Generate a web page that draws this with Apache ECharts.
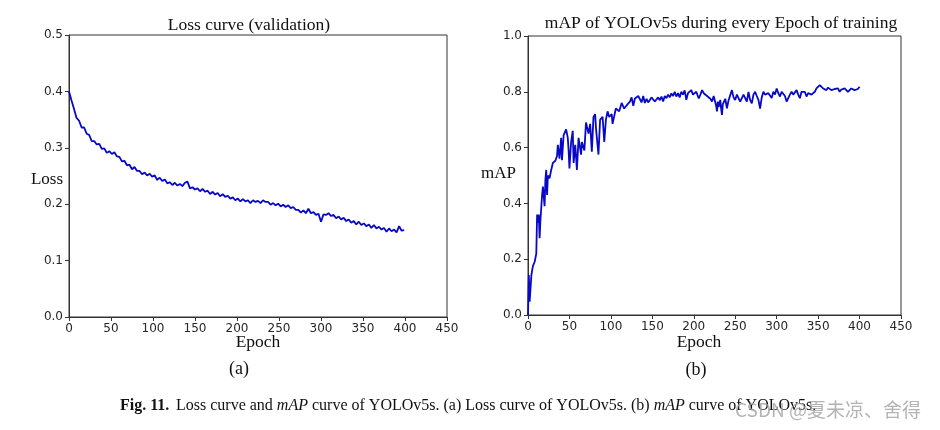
<!DOCTYPE html>
<html><head><meta charset="utf-8">
<script src="https://cdn.jsdelivr.net/npm/echarts@6/dist/echarts.min.js"></script>
<style>html,body{margin:0;padding:0;background:#fff}#c{width:940px;height:430px}</style>
</head><body><div id="c"></div>
<script>
const titleA = "Loss curve (validation)";
const titleB = "mAP of YOLOv5s during every Epoch of training";
const xName = "Epoch";
const yNameA = "Loss";
const yNameB = "mAP";
const xTickLabels = ["0","50","100","150","200","250","300","350","400","450"];
const yTickLabelsA = ["0.0","0.1","0.2","0.3","0.4","0.5"];
const yTickLabelsB = ["0.0","0.2","0.4","0.6","0.8","1.0"];

const lossEpochs = [0,3,6,9,12,15,18,21,24,27,30,33,36,39,42,45,48,51,54,57,60,63,66,69,72,75,78,81,84,87,90,93,96,99,
102,105,108,111,114,117,120,123,126,129,132,135,138,141,144,147,150,153,156,159,162,165,168,171,174,177,180,183,186,189,192,195,198,
201,204,207,210,213,216,219,222,225,228,231,234,237,240,243,246,249,252,255,258,261,264,267,270,273,276,279,282,285,288,291,294,297,
300,303,306,309,312,315,318,321,324,327,330,333,336,339,342,345,348,351,354,357,360,363,366,369,372,375,378,381,384,387,390,393,396,399];
const lossValues = [0.400,0.384,0.369,0.353,0.348,0.336,0.336,0.325,0.323,0.312,0.312,0.306,0.307,0.298,0.299,0.291,0.294,0.289,0.292,0.285,
0.284,0.276,0.277,0.269,0.270,0.262,0.266,0.259,0.259,0.253,0.256,0.251,0.254,0.249,0.251,0.243,0.247,0.241,0.244,0.237,
0.239,0.234,0.238,0.233,0.236,0.232,0.238,0.240,0.228,0.230,0.226,0.228,0.223,0.227,0.222,0.224,0.218,0.222,0.217,0.220,
0.214,0.218,0.213,0.215,0.210,0.212,0.207,0.210,0.205,0.209,0.205,0.207,0.202,0.207,0.204,0.206,0.202,0.207,0.204,0.204,
0.199,0.202,0.198,0.201,0.196,0.199,0.195,0.198,0.193,0.195,0.190,0.190,0.185,0.189,0.184,0.192,0.184,0.186,0.181,0.183,
0.169,0.182,0.181,0.184,0.179,0.181,0.175,0.178,0.173,0.176,0.170,0.173,0.167,0.170,0.164,0.169,0.163,0.166,0.161,0.164,
0.158,0.163,0.157,0.160,0.155,0.158,0.151,0.157,0.152,0.155,0.150,0.161,0.153,0.154];

const mapEpochs = [0,1,2,3,4,5,6,8,10,11,12,13,14,15,17,18,20,21,22,23,24,26,28,30,33,35,36,38,40,41,43,46,48,49,50,52,54,55,57,59,
61,64,65,68,70,73,75,77,79,81,82,85,87,90,92,94,96,98,101,102,106,110,113,116,120,123,125,127,129,131,133,135,137,139,141,143,145,147,149,
151,153,155,157,159,161,163,165,167,169,171,173,175,177,179,181,183,185,187,189,191,193,195,197,199,201,203,206,208,210,212,214,216,218,
220,222,224,226,227,228,229,230,232,233,234,235,237,238,240,242,244,246,248,250,252,254,256,258,260,262,264,266,268,270,272,274,276,278,
280,282,284,286,288,290,292,294,296,298,300,302,304,306,308,310,312,314,316,318,320,322,324,326,328,330,332,334,336,338,340,342,344,346,
348,350,352,354,356,358,360,362,364,366,368,370,372,374,376,378,380,382,384,386,388,390,392,394,396,398,400];
const mapValues = [0.00,0.143,0.048,0.05,0.14,0.16,0.176,0.19,0.22,0.36,0.33,0.36,0.275,0.34,0.43,0.46,0.39,0.485,0.52,0.43,0.50,0.49,0.52,0.545,
0.553,0.57,0.61,0.56,0.635,0.555,0.645,0.665,0.635,0.59,0.525,0.62,0.66,0.545,0.61,0.52,
0.635,0.575,0.62,0.59,0.69,0.65,0.685,0.585,0.71,0.72,0.67,0.575,0.70,0.71,0.62,0.70,0.73,0.71,0.72,0.685,0.74,0.73,0.76,0.74,0.755,
0.765,0.78,0.75,0.776,0.771,0.785,0.78,0.762,0.785,0.76,0.775,0.762,0.765,0.78,
0.777,0.765,0.759,0.78,0.77,0.783,0.765,0.785,0.777,0.79,0.78,0.794,0.785,0.80,0.783,0.795,0.78,0.80,0.79,0.805,0.771,0.795,0.80,0.806,0.79,
0.789,0.80,0.776,0.79,0.806,0.795,0.80,0.785,0.789,
0.775,0.765,0.785,0.79,0.75,0.73,0.765,0.745,0.771,0.74,0.717,0.755,0.759,0.775,0.741,0.77,0.777,0.806,0.78,0.771,0.79,0.795,0.765,0.765,
0.79,0.789,0.765,0.80,0.77,0.759,0.79,0.80,0.785,0.771,
0.74,0.78,0.80,0.79,0.783,0.795,0.789,0.778,0.80,0.79,0.812,0.795,0.783,0.80,0.80,0.785,0.765,0.759,0.79,0.80,0.79,0.783,0.806,0.79,0.777,
0.80,0.795,0.80,0.783,0.795,0.80,0.79,0.789,0.80,
0.812,0.815,0.824,0.818,0.812,0.805,0.806,0.815,0.812,0.806,0.80,0.81,0.806,0.812,0.80,0.808,0.806,0.812,0.809,0.80,0.804,0.812,0.809,
0.806,0.804,0.81,0.818];

const watermark = "CSDN @夏未凉、舍得";

const lineColor = '#0808c8';
const tickFont = {fontFamily:'DejaVu Sans', fontSize:12, color:'#262626'};
const serif = 'Liberation Serif';

function xAxisCfg(gi){
  return {gridIndex:gi, type:'value', min:0, max:450, interval:50,
    axisLine:{show:true, lineStyle:{color:'#333', width:1}},
    axisTick:{show:true, length:4, lineStyle:{color:'#333'}},
    axisLabel:Object.assign({margin:6, formatter:(v)=>xTickLabels[Math.round(v/50)]}, tickFont),
    splitLine:{show:false}};
}
function yAxisCfg(gi, max, interval, labels){
  return {gridIndex:gi, type:'value', min:0, max:max, interval:interval,
    axisLine:{show:true, lineStyle:{color:'#333', width:1}},
    axisTick:{show:true, length:4, lineStyle:{color:'#333'}},
    axisLabel:Object.assign({margin:6, formatter:(v)=>labels[Math.round(v/interval)]}, tickFont),
    splitLine:{show:false}};
}

const chart = echarts.init(document.getElementById('c'), null, {renderer:'canvas'});
chart.setOption({
  backgroundColor:'#fff',
  animation:false,
  title:[
    {text:titleA, left:244, top:11, textAlign:'center', textStyle:{fontFamily:serif, fontSize:17.5, fontWeight:'normal', color:'#111'}},
    {text:titleB, left:716, top:9, textAlign:'center', textStyle:{fontFamily:serif, fontSize:17.5, fontWeight:'normal', color:'#111'}}
  ],
  grid:[
    {left:69, right:493, top:35, bottom:113, show:true, borderColor:'#333', borderWidth:1, backgroundColor:'#fff'},
    {left:528, right:39, top:36, bottom:115, show:true, borderColor:'#333', borderWidth:1, backgroundColor:'#fff'}
  ],
  xAxis:[xAxisCfg(0), xAxisCfg(1)],
  yAxis:[yAxisCfg(0, 0.5, 0.1, yTickLabelsA), yAxisCfg(1, 1.0, 0.2, yTickLabelsB)],
  series:[
    {type:'line', xAxisIndex:0, yAxisIndex:0, showSymbol:false, data:lossEpochs.map((e,i)=>[e, lossValues[i]]),
     lineStyle:{color:lineColor, width:1.8}, itemStyle:{color:lineColor}},
    {type:'line', xAxisIndex:1, yAxisIndex:1, showSymbol:false, data:mapEpochs.map((e,i)=>[e, mapValues[i]]),
     lineStyle:{color:lineColor, width:1.8}, itemStyle:{color:lineColor}}
  ],
  graphic:[
    {type:'text', x:63, y:180, style:{text:yNameA, font:'17px "Liberation Serif"', fill:'#111', align:'right', verticalAlign:'middle'}},
    {type:'text', x:516, y:174, style:{text:yNameB, font:'17px "Liberation Serif"', fill:'#111', align:'right', verticalAlign:'middle'}},
    {type:'text', x:258, y:342, style:{text:xName, font:'17.5px "Liberation Serif"', fill:'#111', align:'center', verticalAlign:'middle'}},
    {type:'text', x:699, y:342, style:{text:xName, font:'17.5px "Liberation Serif"', fill:'#111', align:'center', verticalAlign:'middle'}},
    {type:'text', x:239, y:369, style:{text:'(a)', font:'18px "Liberation Serif"', fill:'#111', align:'center', verticalAlign:'middle'}},
    {type:'text', x:696, y:370, style:{text:'(b)', font:'18px "Liberation Serif"', fill:'#111', align:'center', verticalAlign:'middle'}},
    {type:'text', left:120, top:398, style:{
      text:'{b|Fig. 11.}  {n|Loss curve and }{i|mAP}{n| curve of YOLOv5s. (a) Loss curve of YOLOv5s. (b) }{i|mAP}{n| curve of YOLOv5s.}',
      rich:{
        b:{fontFamily:serif, fontSize:16, fontWeight:'bold', fill:'#111', color:'#111'},
        n:{fontFamily:serif, fontSize:16, fill:'#111', color:'#111'},
        i:{fontFamily:serif, fontSize:16, fontStyle:'italic', fill:'#111', color:'#111'}
      }}},
    {type:'text', x:735, y:410, style:{text:watermark, font:'19px "Noto Sans CJK SC"', fill:'rgba(160,160,160,0.8)', verticalAlign:'middle'}}
  ]
});
</script>
</body></html>
